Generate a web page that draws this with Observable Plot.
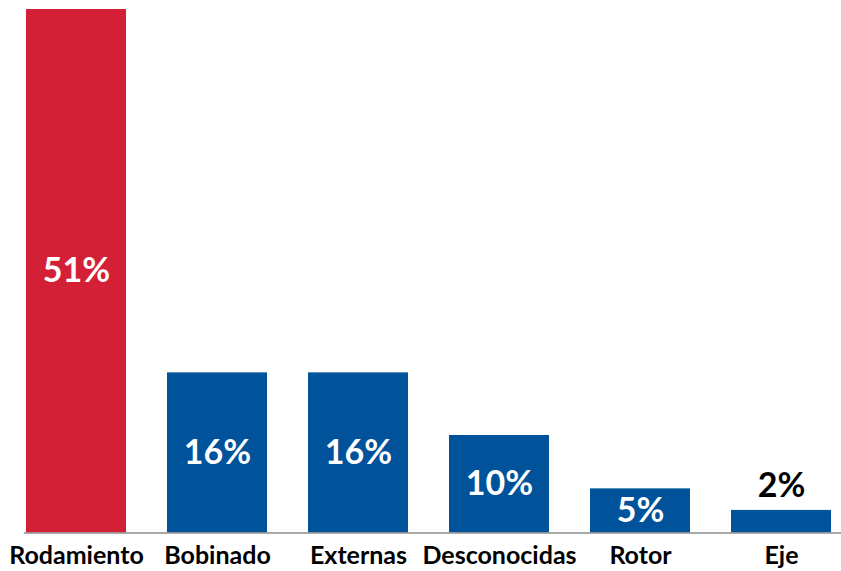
<!DOCTYPE html>
<html>
<head>
<meta charset="utf-8">
<script src="https://cdn.jsdelivr.net/npm/d3@7"></script>
<script src="https://cdn.jsdelivr.net/npm/@observablehq/plot@0.6"></script>
<style>
  html, body { margin: 0; padding: 0; background: #ffffff; }
  #chart svg { display: block; }
</style>
</head>
<body>
<div id="chart"></div>
<script>
const categories = ["Rodamiento", "Bobinado", "Externas", "Desconocidas", "Rotor", "Eje"];
const values = [51, 15.6, 15.6, 9.5, 4.3, 2.2];
const labels = ["51%", "16%", "16%", "10%", "5%", "2%"];
const colors = ["#D42037", "#00529B", "#00529B", "#00529B", "#00529B", "#00529B"];

const data = categories.map((c, i) => ({cat: c, value: values[i], label: labels[i], color: colors[i]}));
const inside = data.filter(d => d.value >= 4);
const outside = data.filter(d => d.value < 4);

const chart = Plot.plot({
  width: 841,
  height: 571,
  marginLeft: 24,
  marginRight: 0,
  marginTop: 9,
  marginBottom: 38.5,
  style: {background: "#ffffff", fontFamily: "Lato, 'Open Sans', sans-serif"},
  x: {domain: categories, range: [24, 834], paddingInner: 0.29, paddingOuter: 0, label: null},
  y: {domain: [0, 51], axis: null},
  marks: [
    Plot.barY(data, {x: "cat", y: "value", fill: "color"}),
    Plot.ruleY([0], {stroke: "#8c8c8c", strokeWidth: 1.5}),
    Plot.axisX({tickSize: 0, tickPadding: 13, fontSize: 25, fontWeight: "bold", fill: "#000000", label: null}),
    Plot.text(inside, {x: "cat", y: d => d.value / 2, text: "label", fill: "#ffffff", fontSize: 34, fontWeight: "bold", lineAnchor: "middle"}),
    Plot.text(outside, {x: "cat", y: "value", text: "label", fill: "#000000", fontSize: 34, fontWeight: "bold", lineAnchor: "middle", dy: -24})
  ]
});
document.getElementById("chart").appendChild(chart);
</script>
</body>
</html>
